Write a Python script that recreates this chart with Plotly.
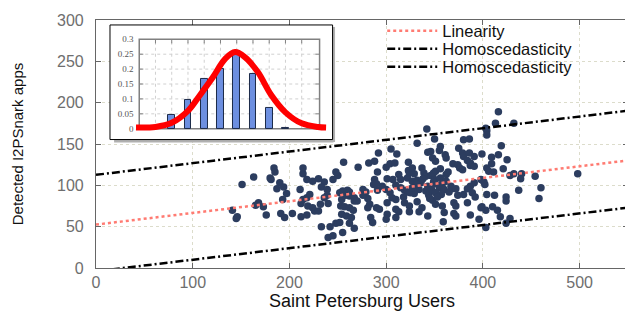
import plotly.graph_objects as go

# ---------------- data ----------------
users = [163,180,181,151,190,187,194,197,214,218,224,230,236,233,239,245,250,211,214,212,218,221,193,168,165,173,141,146,145,176,191,203,195,219,224,226,230,232,212,218,240,233,242,248,252,262,255,240,245,236,239,252,255,260,258,262,253,257,262,266,254,259,264,267,254,256,184,185,214,248,
         342,350,332,380,386,292,305,311,356,355,343,346,375,379,380,386,391,399,361,362,348,351,384,387,387,369,374,376,379,323,282,288,271,300,304,309,291,323,324,337,339,351,349,313,329,362,391,
         416,413,432,403,404,404,419,409,416,425,409,404,406,411,421,432,440,428,454,498,439,401,402,437,460,404,412,424,424,458,399,403,410,415,418,428,424,403,
         288,287,301,307,315,322,327,332,336,331,334,341,346,350,356,351,358,355,360,367,368,387,391,398,276,279,291,300,304,315,319,322,325,329,341,344,347,351,357,374,380,389,
         267,270,281,283,281,290,293,301,310,319,324,332,337,348,351,358,370,372,384,398,310,313,324,334,360,370,372,387,301,300,310,343,284,286,267,359,396,
         332,338,343,349,327,362,365,372,310,296,276,318,306,353,345,384,392,290,262,356,364,327]
apps = [110,109,107,101,103,96,98,90,114,107,105,108,104,98,95,107,112,95,83,78,85,89,83,79,76,74,70,62,60,64,66,66,61,75,73,69,69,77,62,64,78,50,50,54,55,54,43,37,39,85,88,91,93,94,88,87,75,74,73,70,65,63,61,81,83,128,121,116,121,116,
        168,156,151,155,156,139,144,138,147,142,140,141,145,139,135,139,135,138,137,133,133,129,130,127,124,126,125,121,119,128,127,129,122,122,126,127,116,118,115,121,115,117,115,113,114,113,123,
        189,175,175,169,166,161,148,134,137,131,126,121,117,116,120,114,114,112,111,114,108,104,101,94,97,89,88,86,81,84,74,70,74,70,62,60,54,49,
        107,101,108,107,107,109,105,106,103,99,95,111,112,107,109,102,102,97,95,99,96,99,103,107,95,92,94,95,91,97,94,92,91,90,93,88,95,91,89,88,89,91,
        85,81,84,77,73,73,71,79,83,79,75,80,73,82,77,75,79,75,79,73,71,68,68,68,67,66,63,64,65,59,61,63,61,55,48,56,59,
        101,108,99,104,97,105,92,96,100,99,88,86,85,86,84,96,86,102,92,120,116,121]

fit_x = [0, 550]
linearity_y = [52.5, 130.1]
homo_upper_y = [112.7, 190.3]
homo_lower_y = [-4.0, 73.0]

x_ticks = [0, 100, 200, 300, 400, 500]
y_ticks = [0, 50, 100, 150, 200, 250, 300]

# inset histogram
hist_bins = [2, 3, 4, 5, 6, 7, 8, 9]
hist_freq = [0.045, 0.095, 0.168, 0.200, 0.260, 0.185, 0.070, 0.002]
curve_x = [-0.2, 1, 2, 3, 3.7, 4.5, 5.3, 5.9, 6.5, 7.3, 8.1, 9, 10, 11, 11.5]
curve_y = [0.004, 0.006, 0.02, 0.06, 0.11, 0.17, 0.235, 0.257, 0.24, 0.19, 0.115, 0.055, 0.018, 0.006, 0.004]
inset_xticks = [1, 2, 3, 4, 5, 6, 7, 8, 9, 10]
inset_yticks = [0, 0.05, 0.1, 0.15, 0.2, 0.25, 0.3]
inset_yticktext = ["0", "0.05", "0.1", "0.15", "0.2", "0.25", "0.3"]
inset_xmax = 11.1
inset_ymax = 0.3

FONT = "Liberation Sans, Arial, sans-serif"
fig = go.Figure()

fig.add_trace(go.Scatter(x=users, y=apps, mode="markers", showlegend=False,
                         marker=dict(size=7.5, color="#2c3d5f", line=dict(width=0)),
                         xaxis="x", yaxis="y"))
fig.add_trace(go.Scatter(x=fit_x, y=linearity_y, mode="lines", name="Linearity",
                         line=dict(color="#ff7b72", width=2.5, dash="dot"), legend="legend"))
fig.add_trace(go.Scatter(x=fit_x, y=homo_upper_y, mode="lines", name="Homoscedasticity",
                         line=dict(color="black", width=2.5, dash="8px,3px,2px,3px"), legend="legend2"))
fig.add_trace(go.Scatter(x=fit_x, y=homo_lower_y, mode="lines", name="Homoscedasticity",
                         line=dict(color="black", width=2.5, dash="8px,3px,2px,3px"), legend="legend3"))

# inset
fig.add_trace(go.Bar(x=hist_bins, y=hist_freq, width=0.42, showlegend=False,
                     marker=dict(color="#6d8fe0", line=dict(color="#1c2a48", width=1)),
                     xaxis="x2", yaxis="y2"))
fig.add_trace(go.Scatter(x=curve_x, y=curve_y, mode="lines", showlegend=False,
                         line=dict(color="#ff0000", width=6, shape="spline"),
                         xaxis="x2", yaxis="y2"))

shapes = []
# inset grid
for t in inset_xticks:
    shapes.append(dict(type="line", xref="x2", yref="y2", x0=t, x1=t, y0=0, y1=inset_ymax,
                       line=dict(color="#d0d0d0", width=1, dash="dot"), layer="below"))
    shapes.append(dict(type="line", xref="x2", yref="y2", x0=t, x1=t, y0=inset_ymax, y1=inset_ymax - 0.014,
                       line=dict(color="#808080", width=1), layer="below"))
for t in inset_yticks[1:-1]:
    shapes.append(dict(type="line", xref="x2", yref="y2", x0=0, x1=inset_xmax, y0=t, y1=t,
                       line=dict(color="#d0d0d0", width=1, dash="dot"), layer="below"))
    shapes.append(dict(type="line", xref="x2", yref="y2", x0=0, x1=0.25, y0=t, y1=t,
                       line=dict(color="#808080", width=1), layer="below"))
    shapes.append(dict(type="line", xref="x2", yref="y2", x0=inset_xmax - 0.25, x1=inset_xmax, y0=t, y1=t,
                       line=dict(color="#808080", width=1), layer="below"))
shapes.append(dict(type="rect", xref="x2", yref="y2", x0=0, x1=inset_xmax, y0=0, y1=inset_ymax,
                   line=dict(color="#808080", width=1.5), layer="below"))
# inset outer box + shadow
shapes.append(dict(type="line", xref="paper", yref="paper", x0=0.4465, x1=0.4465, y0=0.508, y1=0.972,
                   line=dict(color="#b0b0b0", width=3), layer="above"))
shapes.append(dict(type="line", xref="paper", yref="paper", x0=0.034, x1=0.4465, y0=0.512, y1=0.512,
                   line=dict(color="#b0b0b0", width=3), layer="above"))
shapes.append(dict(type="rect", xref="paper", yref="paper", x0=0.0263, x1=0.4447, y0=0.518, y1=0.980,
                   line=dict(color="black", width=1), layer="above"))

axis_common = dict(showline=True, linecolor="#666666", linewidth=1.2, mirror="ticks",
                   ticks="inside", ticklen=5, tickcolor="#666666", ticklabeloverflow="allow",
                   showgrid=True, gridcolor="#dcdccb", griddash="dot", gridwidth=1,
                   zeroline=False, tickfont=dict(family=FONT, size=16, color="#6e6e6e"))

legend_common = dict(xanchor="left", yanchor="middle", bgcolor="rgba(0,0,0,0)",
                     font=dict(family=FONT, size=16.5, color="#111111"), itemwidth=50,
                     borderwidth=0, tracegroupgap=0)

# the page body has an 8px default margin; size the figure so it fills the 633x312 window
fig.update_layout(
    width=625, height=304, autosize=False,
    margin=dict(l=88, r=4, t=6, b=42),
    paper_bgcolor="white", plot_bgcolor="white",
    font=dict(family=FONT),
    xaxis=dict(range=[0, 550], tickvals=x_ticks, domain=[0, 1],
               title=dict(text="Saint Petersburg Users", font=dict(family=FONT, size=18, color="#111111"), standoff=4),
               **axis_common),
    yaxis=dict(range=[0, 300], tickvals=y_ticks, domain=[0, 1], ticklabelstandoff=8,
               title=dict(text="Detected I2PSnark apps", font=dict(family=FONT, size=15, color="#111111"), standoff=29),
               **axis_common),
    xaxis2=dict(domain=[0.0263, 0.4447], range=[-1.8, 11.9], anchor="y2",
                showgrid=False, zeroline=False, showticklabels=False, ticks="", showline=False),
    yaxis2=dict(domain=[0.518, 0.980], range=[-0.0362, 0.348], anchor="free", position=0.0812,
                showgrid=False, zeroline=False, showline=False,
                tickvals=inset_yticks, ticktext=inset_yticktext, ticks="outside", ticklen=4,
                tickcolor="rgba(0,0,0,0)",
                tickfont=dict(family="Liberation Serif, Times New Roman, serif", size=9, color="#555555")),
    legend=dict(x=0.538, y=0.956, **legend_common),
    legend2=dict(x=0.538, y=0.883, **legend_common),
    legend3=dict(x=0.538, y=0.810, **legend_common),
    shapes=shapes,
    bargap=0,
)

fig.write_html("out.html")
